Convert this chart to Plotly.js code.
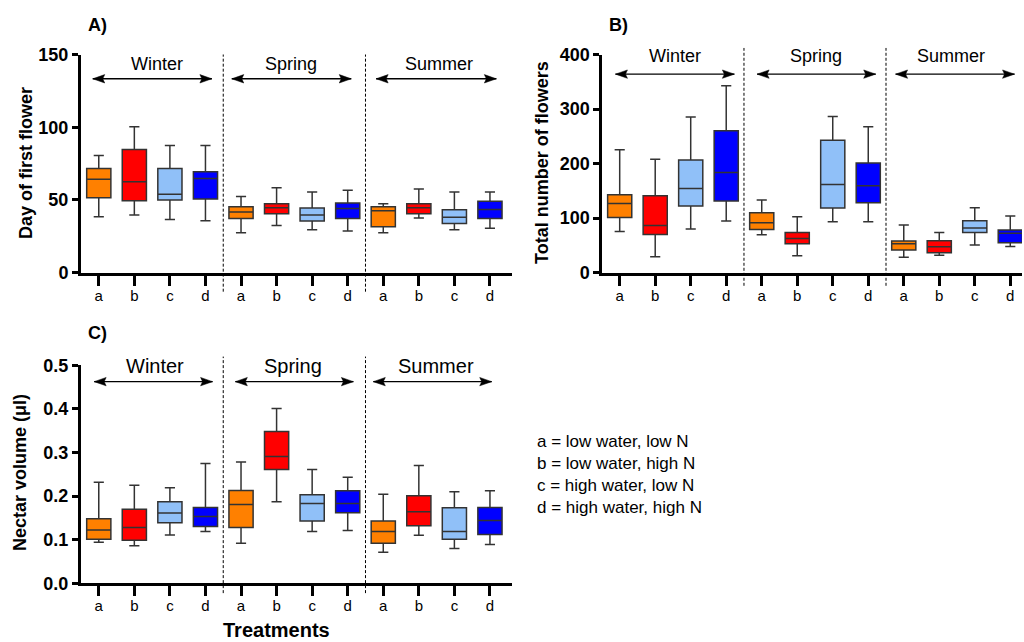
<!DOCTYPE html>
<html>
<head>
<meta charset="utf-8">
<script src="https://cdn.plot.ly/plotly-3.0.1.min.js"></script>
<style>html,body{margin:0;padding:0;background:#fff}#chart{width:1024px;height:642px}</style>
</head>
<body>
<div id="chart"></div>
<script>
// Categories
const treatments = ['a', 'b', 'c', 'd'];
const seasons = ['Winter', 'Spring', 'Summer'];
const treatmentColors = ['#FF8000', '#FF0000', '#90C0F8', '#0000FF'];
const legendLines = ['a = low water, low N', 'b = low water, high N', 'c = high water, low N', 'd = high water, high N'];

// Panel A: Day of first flower (order: Winter a-d, Spring a-d, Summer a-d)
const dayLower  = [38.5, 39.6, 36.6, 35.7, 27.5, 32.5, 29.5, 28.6, 27.5, 37.6, 29.5, 30.5];
const dayQ1     = [51.5, 49.5, 49.9, 50.6, 37.3, 40.5, 35.5, 37.3, 31.6, 40.5, 33.9, 37.3];
const dayMedian = [64.3, 62.5, 54.0, 64.8, 41.7, 44.7, 39.6, 44.2, 42.6, 44.7, 38.2, 43.5];
const dayQ3     = [71.7, 84.7, 71.7, 69.4, 45.3, 47.4, 44.4, 47.9, 45.3, 47.4, 43.3, 49.2];
const dayUpper  = [80.6, 100.3, 87.5, 87.5, 52.4, 58.4, 55.4, 56.6, 47.4, 57.5, 55.4, 55.4];

// Panel B: Total number of flowers
const flwLower  = [75.7, 29.3, 80.0, 94.7, 69.6, 31.1, 93.4, 93.4, 28.1, 31.8, 50.7, 48.2];
const flwQ1     = [101.4, 70.2, 122.1, 131.3, 79.4, 53.1, 118.5, 128.2, 41.5, 36.6, 73.9, 55.0];
const flwMedian = [127.0, 86.7, 154.5, 183.8, 91.6, 62.9, 161.8, 159.4, 53.1, 47.6, 81.8, 72.1];
const flwQ3     = [142.9, 141.0, 206.4, 260.2, 109.9, 73.9, 243.0, 200.9, 58.0, 58.6, 95.3, 78.2];
const flwUpper  = [225.3, 208.2, 285.2, 342.6, 133.1, 102.6, 286.4, 267.5, 87.3, 73.9, 119.1, 103.8];

// Panel C: Nectar volume (µl)
const necLower  = [0.094, 0.086, 0.111, 0.119, 0.092, 0.187, 0.119, 0.121, 0.071, 0.110, 0.080, 0.089];
const necQ1     = [0.101, 0.099, 0.139, 0.130, 0.128, 0.261, 0.143, 0.162, 0.092, 0.132, 0.101, 0.112];
const necMedian = [0.122, 0.128, 0.161, 0.153, 0.181, 0.291, 0.183, 0.183, 0.119, 0.164, 0.119, 0.144];
const necQ3     = [0.148, 0.170, 0.187, 0.174, 0.213, 0.348, 0.203, 0.212, 0.143, 0.201, 0.173, 0.174];
const necUpper  = [0.232, 0.225, 0.219, 0.275, 0.278, 0.401, 0.261, 0.243, 0.204, 0.270, 0.210, 0.212];

const FONT = 'Liberation Sans, Arial, sans-serif';
const W = 1024, H = 642;
const px = v => v / W;
const py = v => 1 - v / H;

const positions = [];
const tickText = [];
seasons.forEach((s, si) => treatments.forEach((t, ti) => { positions.push(si * 4 + ti); tickText.push(t); }));

function boxTraces(lower, q1, med, q3, upper, xa, ya) {
  return treatments.map((t, ti) => {
    const idx = [0, 1, 2].map(si => si * 4 + ti);
    return {
      type: 'box', name: t, xaxis: xa, yaxis: ya,
      x: idx.map(i => positions[i]),
      lowerfence: idx.map(i => lower[i]),
      q1: idx.map(i => q1[i]),
      median: idx.map(i => med[i]),
      q3: idx.map(i => q3[i]),
      upperfence: idx.map(i => upper[i]),
      boxpoints: false, width: 0.68, whiskerwidth: 0.42,
      fillcolor: treatmentColors[ti],
      line: { color: '#333333', width: 1.5 },
      showlegend: false, hoverinfo: 'y'
    };
  });
}

const data = [].concat(
  boxTraces(dayLower, dayQ1, dayMedian, dayQ3, dayUpper, 'x', 'y'),
  boxTraces(flwLower, flwQ1, flwMedian, flwQ3, flwUpper, 'x2', 'y2'),
  boxTraces(necLower, necQ1, necMedian, necQ3, necUpper, 'x3', 'y3')
);

function xAxis(domain, range, anchor) {
  return {
    domain: domain, range: range, anchor: anchor,
    tickvals: positions, ticktext: tickText, ticks: 'outside', ticklen: 10, tickwidth: 3, tickcolor: '#000',
    ticklabelstandoff: -3,
    showline: true, linewidth: 3, linecolor: '#000', showgrid: false, zeroline: false,
    tickfont: { family: FONT, size: 15, color: '#000' }, fixedrange: true
  };
}
function yAxis(domain, range, dtick, anchor, fmt) {
  return {
    domain: domain, range: range, dtick: dtick, anchor: anchor, tickformat: fmt,
    ticks: 'outside', ticklen: 6, tickwidth: 3, tickcolor: '#000',
    showline: true, linewidth: 3, linecolor: '#000', showgrid: false, zeroline: false,
    tickfont: { family: FONT, size: 18, color: '#000', weight: 'bold' }, fixedrange: true
  };
}

const yTop = [py(272.7), py(54.5)];
const yBot = [py(583.3), py(365.3)];
const xLeft = [px(81), px(512)];
const xRight = [px(602.3), px(1022)];

const layout = {
  width: W, height: H,
  margin: { l: 0, r: 0, t: 0, b: 0 },
  paper_bgcolor: '#fff', plot_bgcolor: 'rgba(0,0,0,0)',
  font: { family: FONT, color: '#000' },
  showlegend: false, boxmode: 'overlay',
  xaxis: xAxis(xLeft, [-0.5, 11.62], 'y'),
  yaxis: yAxis(yTop, [0, 150], 50, 'x', ''),
  xaxis2: xAxis(xRight, [-0.49, 11.33], 'y2'),
  yaxis2: yAxis(yTop, [0, 400], 100, 'x2', ''),
  xaxis3: xAxis(xLeft, [-0.5, 11.62], 'y3'),
  yaxis3: yAxis(yBot, [0, 0.5], 0.1, 'x3', '.1f'),
  shapes: [], annotations: []
};

// Season dividers
[['x', 'y', -0.087, 1.0], ['x2', 'y2', -0.06, 1.03], ['x3', 'y3', -0.045, 1.04]].forEach(([xa, ya, y0, y1]) => {
  [3.5, 7.5].forEach(xv => {
    layout.shapes.push({ type: 'line', xref: xa, yref: ya + ' domain', x0: xv, x1: xv, y0: y0, y1: y1,
      line: { color: '#000', width: 1, dash: '3px,2px' } });
  });
});

// Season arrows and labels
const seasonSpecs = [
  { xa: 'x', ya: 'y', arrowY: 133.3, labelY: 143.8, fs: 18,
    spans: [[-0.17, 3.18], [3.74, 7.1], [7.8, 11.18]], centers: [1.63, 5.41, 9.56] },
  { xa: 'x2', ya: 'y2', arrowY: 364, labelY: 397, fs: 18,
    spans: [[-0.12, 3.23], [3.87, 7.21], [7.77, 11.12]], centers: [1.55, 5.53, 9.33] },
  { xa: 'x3', ya: 'y3', arrowY: 0.4625, labelY: 0.499, fs: 20,
    spans: [[-0.13, 3.2], [3.84, 7.16], [7.72, 11.05]], centers: [1.59, 5.47, 9.47] }
];
const headLeft = 'M0,0 L12,4.2 L10,0 L12,-4.2 Z';
const headRight = 'M0,0 L-12,4.2 L-10,0 L-12,-4.2 Z';
seasonSpecs.forEach(sp => {
  seasons.forEach((s, i) => {
    const [x0, x1] = sp.spans[i];
    layout.shapes.push({ type: 'line', xref: sp.xa, yref: sp.ya, x0: x0, x1: x1, y0: sp.arrowY, y1: sp.arrowY,
      line: { color: '#000', width: 1.4 } });
    [[x0, headLeft], [x1, headRight]].forEach(([xv, p]) => {
      layout.shapes.push({ type: 'path', xref: sp.xa, yref: sp.ya, xsizemode: 'pixel', ysizemode: 'pixel',
        xanchor: xv, yanchor: sp.arrowY, path: p, fillcolor: '#000', line: { color: '#000', width: 0.5 } });
    });
    layout.annotations.push({
      xref: sp.xa, yref: sp.ya, x: sp.centers[i], y: sp.labelY, text: s, showarrow: false,
      font: { family: FONT, size: sp.fs, color: '#000' }, xanchor: 'center', yanchor: 'middle'
    });
  });
});

// Panel letters
[['A)', 86, 25], ['B)', 607, 25], ['C)', 86, 333]].forEach(([t, x, y]) => {
  layout.annotations.push({ xref: 'paper', yref: 'paper', x: px(x), y: py(y), text: t, showarrow: false,
    xanchor: 'left', yanchor: 'middle', font: { family: FONT, size: 18, color: '#000', weight: 'bold' } });
});

// Axis titles
[['Day of first flower', 26, 163], ['Total number of flowers', 541.5, 162.5], ['Nectar volume (μl)', 20, 473]].forEach(([t, x, y]) => {
  layout.annotations.push({ xref: 'paper', yref: 'paper', x: px(x), y: py(y), text: t, showarrow: false,
    textangle: -90, xanchor: 'center', yanchor: 'middle', font: { family: FONT, size: 18, color: '#000', weight: 'bold' } });
});
layout.annotations.push({ xref: 'paper', yref: 'paper', x: px(276), y: 0, text: 'Treatments', showarrow: false,
  xanchor: 'center', yanchor: 'bottom', borderpad: 0, font: { family: FONT, size: 20, color: '#000', weight: 'bold' } });

// Treatment key
layout.annotations.push({ xref: 'paper', yref: 'paper', x: px(535), y: py(430), text: legendLines.join('<br>'),
  showarrow: false, xanchor: 'left', yanchor: 'top', align: 'left',
  font: { family: FONT, size: 17, color: '#000' } });

Plotly.newPlot('chart', data, layout, { staticPlot: true, displayModeBar: false });
</script>
</body>
</html>
